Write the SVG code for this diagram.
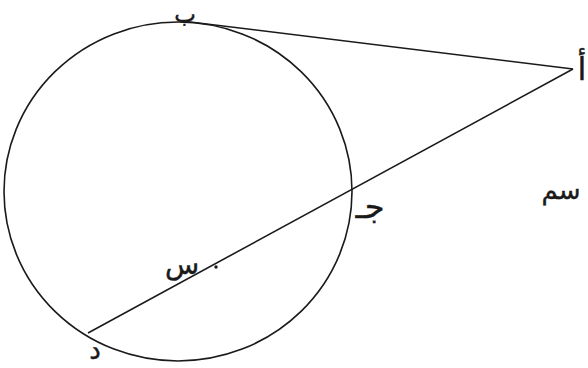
<svg xmlns="http://www.w3.org/2000/svg" width="588" height="368" viewBox="0 0 588 368">
<style>
.ln{fill:none;stroke:#1a1a1a;stroke-width:1.6}
.t{font-family:"DejaVu Sans",sans-serif;fill:#1a1a1a;stroke:#1a1a1a;stroke-width:0.4}
</style>
<rect width="588" height="368" fill="#fff"/>
<g id="circle"><ellipse class="ln" cx="178" cy="191.5" rx="174" ry="169.5"/></g>
<g id="connectors">
<line class="ln" x1="180" y1="20.7" x2="573" y2="69"/>
<line class="ln" x1="573" y1="69" x2="88" y2="333"/>
</g>
<g id="center"><circle cx="216" cy="267" r="1.7" fill="#1a1a1a"/><text class="t" x="182" y="274" font-size="28" text-anchor="middle">س</text></g>
<g id="B"><text class="t" x="185" y="22" font-size="23" text-anchor="middle">ب</text></g>
<g id="A"><text class="t" x="582" y="80" font-size="32" text-anchor="middle">أ</text></g>
<g id="C"><text class="t" x="370" y="218" font-size="32" text-anchor="middle">جـ</text></g>
<g id="D"><text class="t" x="95" y="359" font-size="26" text-anchor="middle">د</text></g>
<g id="unit"><text class="t" x="561" y="199" font-size="26" text-anchor="middle">سم</text></g>
</svg>
